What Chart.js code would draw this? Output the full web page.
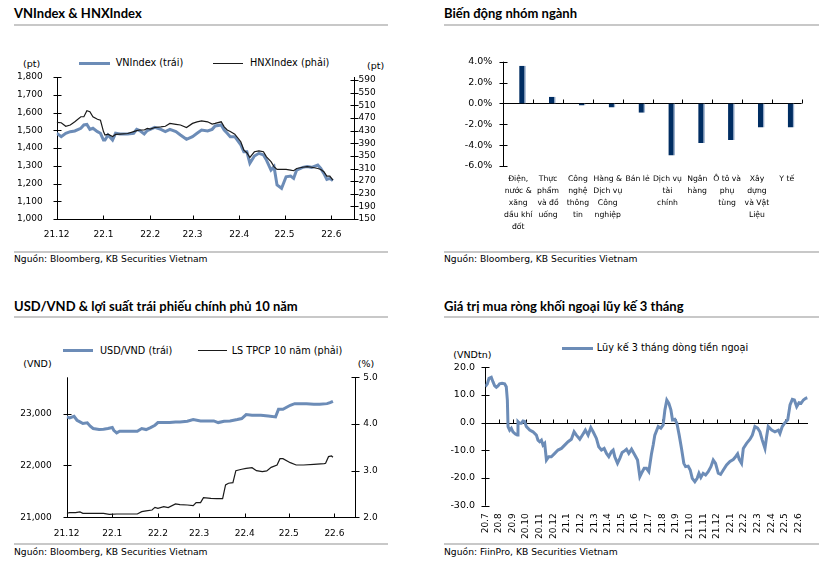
<!DOCTYPE html>
<html><head><meta charset="utf-8">
<script src="https://cdn.jsdelivr.net/npm/chart.js@4.4.1/dist/chart.umd.min.js"></script>
<style>
body{margin:0;width:830px;height:561px;background:#fff;position:relative;overflow:hidden;font-family:"DejaVu Sans",sans-serif;color:#000;}
.t{position:absolute;font-family:Lato,sans-serif;font-weight:bold;font-size:13px;line-height:16px;white-space:nowrap;}
.r{position:absolute;height:2px;background:#c8c8c8;}
.s{position:absolute;font-size:9.2px;line-height:12px;white-space:nowrap;}
.l{position:absolute;font-size:9.7px;line-height:12px;white-space:nowrap;}
.u{position:absolute;font-size:9.5px;line-height:12px;white-space:nowrap;}
.sw{position:absolute;}
.c{position:absolute;}
</style></head><body>

<div class="t" style="left:14px;top:5px">VNIndex &amp; HNXIndex</div>
<div class="r" style="left:14px;top:24px;width:374px"></div>
<div class="t" style="left:444px;top:5px">Biến động nhóm ngành</div>
<div class="r" style="left:444px;top:24px;width:375px"></div>
<div class="t" style="left:14px;top:298px">USD/VND &amp; lợi suất trái phiếu chính phủ 10 năm</div>
<div class="r" style="left:14px;top:316px;width:374px"></div>
<div class="t" style="left:444px;top:298px">Giá trị mua ròng khối ngoại lũy kế 3 tháng</div>
<div class="r" style="left:444px;top:316px;width:375px"></div>

<div class="r" style="left:14px;top:251px;width:374px"></div>
<div class="s" style="left:14px;top:253px">Nguồn: Bloomberg, KB Securities Vietnam</div>
<div class="r" style="left:444px;top:251px;width:375px"></div>
<div class="s" style="left:444px;top:253px">Nguồn: Bloomberg, KB Securities Vietnam</div>
<div class="r" style="left:14px;top:543px;width:374px"></div>
<div class="s" style="left:14px;top:546px">Nguồn: Bloomberg, KB Securities Vietnam</div>
<div class="r" style="left:444px;top:543px;width:375px"></div>
<div class="s" style="left:444px;top:546px">Nguồn: FiinPro, KB Securities Vietnam</div>

<!-- legends -->
<div class="sw" style="left:79px;top:61.5px;width:31px;height:3px;background:#6C8CB7"></div>
<div class="l" style="left:115.7px;top:57px">VNIndex (trái)</div>
<div class="sw" style="left:213px;top:62.5px;width:30px;height:1.2px;background:#1a1a1a"></div>
<div class="l" style="left:250px;top:57px">HNXIndex (phải)</div>
<div class="u" style="left:23px;top:58px">(pt)</div>
<div class="u" style="left:367px;top:60px">(pt)</div>

<div class="sw" style="left:62.7px;top:349.2px;width:30px;height:3px;background:#6C8CB7"></div>
<div class="l" style="left:100px;top:344.7px">USD/VND (trái)</div>
<div class="sw" style="left:198px;top:350.2px;width:29px;height:1.2px;background:#1a1a1a"></div>
<div class="l" style="left:231.7px;top:344.7px">LS TPCP 10 năm (phải)</div>
<div class="u" style="left:23.3px;top:358px">(VND)</div>
<div class="u" style="left:357.7px;top:358px">(%)</div>

<div class="sw" style="left:562px;top:346.8px;width:31px;height:3px;background:#6C8CB7"></div>
<div class="l" style="left:596.7px;top:342.3px">Lũy kế 3 tháng dòng tiền ngoại</div>
<div class="u" style="left:453.3px;top:349px">(VNDtn)</div>

<div class="c" style="left:0;top:40px;width:415px;height:210px"><canvas id="c1"></canvas></div>
<div class="c" style="left:415px;top:40px;width:415px;height:210px"><canvas id="c2"></canvas></div>
<div class="c" style="left:0;top:330px;width:415px;height:215px"><canvas id="c3"></canvas></div>
<div class="c" style="left:415px;top:330px;width:415px;height:215px"><canvas id="c4"></canvas></div>

<script>
// ---------- DATA ----------
// Panel 1: days since 1 Dec 2021
const days1 = [0,3,6,9,12,16,18,20,22,24,27,29,31,32,34,37,39,42,47,51,53,55,58,60,62,65,69,72,75,79,82,86,90,93,96,100,103,105,109,111,113,115,118,122,124,126,128,131,134,137,139,142,144,146,149,152,155,157,159,163,166,169,173,175,177,179,181,183];
const vnIndex = [1483,1464,1483,1492,1496,1511,1530,1533,1505,1511,1492,1483,1445,1445,1473,1445,1483,1479,1479,1483,1505,1498,1479,1498,1505,1516,1505,1492,1505,1492,1473,1449,1464,1483,1501,1496,1505,1524,1530,1501,1483,1464,1464,1417,1379,1379,1314,1355,1370,1361,1332,1276,1295,1192,1173,1238,1242,1229,1276,1291,1295,1291,1304,1285,1257,1223,1229,1216];
const hnxIndex = [456,455,444,448,458,474,474,493,490,474,466,463,427,416,419,411,418,419,421,427,430,432,432,437,435,440,442,444,453,450,448,440,453,458,461,458,451,453,458,442,432,427,419,395,368,360,345,363,366,363,347,332,316,307,307,307,305,303,310,314,316,314,310,307,300,286,286,273];
const monthTickDays = [0,31,62,90,121,151,182];
const monthLabels = ['21.12','22.1','22.2','22.3','22.4','22.5','22.6'];
const hnxTicks = [150,190,230,270,310,350,390,430,470,510,550,590];

// Panel 2
const sectors = [['Điện,','nước &','xăng','dầu khí','đốt'],['Thực','phẩm','và đồ','uống'],['Công','nghệ','thông','tin'],['Hàng &','Dịch vụ','Công','nghiệp'],['Bán lẻ'],['Dịch vụ','tài','chính'],['Ngân','hàng'],['Ô tô và','phụ','tùng'],['Xây','dựng','và Vật','Liệu'],['Y tế']];
const sectorChange = [3.6,0.65,-0.2,-0.4,-0.9,-5.0,-3.8,-3.5,-2.3,-2.3];

// Panel 3
const daysUsd = [0,2,5,7,9,11,14,16,18,22,25,28,31,32,34,36,40,43,48,51,54,57,60,62,66,70,74,77,82,86,91,95,100,103,107,111,116,119,122,126,132,137,142,144,147,152,155,159,163,168,172,177,179,181];
const usdVnd = [22936,22917,22949,22872,22840,22808,22821,22756,22712,22692,22699,22712,22731,22679,22628,22660,22660,22660,22660,22712,22692,22731,22776,22827,22827,22827,22840,22840,22853,22885,22859,22859,22859,22827,22853,22859,22885,22904,22981,22968,22968,22955,22936,23083,23083,23160,23192,23192,23192,23179,23179,23192,23212,23237];
const daysYield = [0,2,6,9,11,16,20,25,29,34,39,43,48,51,54,58,60,62,66,69,74,77,82,86,88,91,93,98,102,106,108,110,113,115,119,122,126,129,133,136,139,143,145,147,152,156,161,168,175,176,178,180,181];
const bondYield = [2.086,2.10,2.10,2.114,2.086,2.086,2.086,2.086,2.064,2.071,2.071,2.071,2.071,2.121,2.136,2.157,2.214,2.193,2.229,2.207,2.286,2.271,2.264,2.25,2.314,2.314,2.421,2.407,2.40,2.40,2.693,2.729,2.743,3.0,3.029,3.05,3.064,3.0,2.979,2.993,3.071,3.121,3.257,3.257,3.171,3.121,3.121,3.136,3.15,3.157,3.30,3.314,3.286];
const usdTicks = [21000,22000,23000];

// Panel 4: months since Jul 2020
const months4 = [0,0.15,0.27,0.44,0.56,0.69,0.81,0.93,1.05,1.23,1.42,1.54,1.62,1.67,1.79,1.91,2.03,2.21,2.35,2.40,2.52,2.65,2.77,2.89,3.01,3.26,3.50,3.75,3.87,3.99,4.12,4.24,4.36,4.49,4.66,4.85,5.10,5.34,5.59,5.83,6.08,6.32,6.52,6.69,6.94,7.18,7.35,7.55,7.75,7.92,8.16,8.33,8.53,8.73,8.90,9.07,9.26,9.39,9.51,9.71,9.88,10.05,10.25,10.37,10.54,10.74,10.98,11.18,11.35,11.47,11.67,11.84,12.01,12.21,12.33,12.45,12.70,12.89,13.06,13.19,13.33,13.48,13.63,13.75,13.92,14.07,14.24,14.41,14.58,14.71,14.90,15.05,15.20,15.39,15.56,15.69,15.83,16.00,16.18,16.37,16.57,16.74,16.91,17.11,17.28,17.48,17.72,17.97,18.21,18.38,18.53,18.65,18.82,18.95,19.19,19.44,19.61,19.80,20.00,20.17,20.34,20.54,20.66,20.78,21.03,21.27,21.52,21.64,21.81,22.01,22.21,22.38,22.55,22.70,22.87,23.04,23.19,23.36,23.53,23.65];
const foreignFlow3M = [13.0,14,16.0,16.4,14.8,13.3,12.8,13.3,14.0,14.2,14.0,13.0,8.2,-1.4,-2.7,-2.0,-3.3,-4.1,-4.5,0.4,-0.2,-0.2,0.6,0.4,-1.4,-2.7,-3.3,-4.5,-6.3,-6.9,-6.3,-8.1,-7.5,-13.5,-12.3,-12.3,-11.1,-9.9,-9.3,-8.1,-6.9,-6.0,-3.3,-4.5,-6.0,-4.1,-2.7,-4.5,-1.8,-3.3,-5.7,-8.7,-9.9,-9.3,-11.1,-12.3,-10.5,-9.9,-12.3,-14.7,-12.9,-10.8,-10.1,-9.6,-11.1,-9.6,-11.7,-13.5,-19.5,-18.3,-16.5,-16.5,-17.7,-11.1,-8.1,-4.5,-1.4,-2.0,-0.8,4.6,8.2,7.0,4.6,1.0,1.2,-0.2,-4.5,-9.3,-14.7,-15.9,-15.7,-17.1,-20.1,-21.3,-20.1,-18.3,-19.8,-18.3,-18.9,-17.7,-15.9,-13.5,-14.7,-18.3,-18.7,-17.1,-15.3,-14.0,-13.3,-12.3,-11.3,-13.3,-14.7,-9.3,-7.5,-6.0,-4.5,-1.4,-2.0,-3.3,-6.3,-9.3,-5.1,-1.4,-2.7,-3.3,-2.7,-3.9,-1.4,0,1.0,6.4,8.4,8.2,5.8,7.2,7.0,8.2,8.8,9.0];
const monthLabels4 = ['20.7','20.8','20.9','20.10','20.11','20.12','21.1','21.2','21.3','21.4','21.5','21.6','21.7','21.8','21.9','21.10','21.11','21.12','22.1','22.2','22.3','22.4','22.5','22.6'];

// ---------- SETUP ----------
const BLUE = '#6C8CB7', DARK = '#1a1a1a', NAVY = '#002D62';
Chart.defaults.color = '#000';
Chart.defaults.font.family = '"DejaVu Sans", sans-serif';
Chart.defaults.font.size = 9;
Chart.defaults.animation = false;
Chart.defaults.devicePixelRatio = 1;
Chart.defaults.maintainAspectRatio = false;
Chart.defaults.plugins.legend.display = false;
Chart.defaults.plugins.tooltip.enabled = false;

const axisDecor = {
  id: 'axisDecor',
  beforeDatasetsDraw(chart, args, o) {
    const {ctx, chartArea: a, scales} = chart;
    ctx.save();
    ctx.strokeStyle = '#000';
    ctx.lineWidth = 1;
    const seg = (x1, y1, x2, y2) => { ctx.beginPath(); ctx.moveTo(x1, y1); ctx.lineTo(x2, y2); ctx.stroke(); };
    (o.y || []).forEach(id => {
      const s = scales[id];
      const x = Math.round(s.position === 'right' ? a.right : a.left) + 0.5;
      seg(x, a.top, x, a.bottom);
      s.ticks.forEach(t => { const y = Math.round(s.getPixelForValue(t.value)) + 0.5; seg(x - 4, y, x + 4, y); });
    });
    if (o.x) {
      const s = scales[o.x.id];
      const yy = o.x.at === undefined ? a.bottom : scales[o.x.yId].getPixelForValue(o.x.at);
      const y = Math.round(yy) + 0.5;
      seg(a.left, y, a.right, y);
      const marks = o.x.boundaries ? s.ticks.map((t, i) => i + 0.5) : s.ticks.map(t => t.value);
      marks.forEach(v => { const x = Math.round(s.getPixelForValue(v)) + 0.5; seg(x, y, x, y - 4); });
    }
    ctx.restore();
  }
};
const fixW = w => s => { s.width = w; };
const fixH = h => s => { s.height = h; };
const noGrid = {display: false, drawTicks: false};
const noBorder = {display: false};
const pts = (xs, ys) => xs.map((x, i) => ({x, y: ys[i]}));

// ---------- PANEL 1 ----------
new Chart(document.getElementById('c1'), {
  type: 'line',
  data: { datasets: [
    {label: 'VNIndex (trái)', data: pts(days1, vnIndex), borderColor: BLUE, borderWidth: 3, pointRadius: 0, yAxisID: 'y', order: 2},
    {label: 'HNXIndex (phải)', data: pts(days1, hnxIndex), borderColor: DARK, borderWidth: 1.2, pointRadius: 0, yAxisID: 'y2', order: 1}
  ]},
  options: {
    layout: {padding: {left: 6.7, right: 21, top: 37, bottom: 6}},
    scales: {
      x: {type: 'linear', min: 0, max: 197, grid: noGrid, border: noBorder, afterFit: fixH(25),
          afterBuildTicks: s => { s.ticks = monthTickDays.map(v => ({value: v})); },
          ticks: {autoSkip: false, maxRotation: 0, padding: 10.6, callback: (v, i) => monthLabels[i]}},
      y: {position: 'left', min: 1000, max: 1800, grid: noGrid, border: noBorder, afterFit: fixW(50),
          ticks: {autoSkip: false, stepSize: 100, padding: 14, callback: v => v.toLocaleString('en-US')}},
      y2: {position: 'right', min: 150, max: 600, grid: noGrid, border: noBorder, afterFit: fixW(40),
          afterBuildTicks: s => { s.ticks = hnxTicks.map(v => ({value: v})); },
          ticks: {autoSkip: false, padding: 4.5, callback: v => String(v)}}
    },
    plugins: {axisDecor: {y: ['y', 'y2'], x: {id: 'x'}}}
  },
  plugins: [axisDecor]
});

// ---------- PANEL 2 ----------
new Chart(document.getElementById('c2'), {
  type: 'bar',
  data: { labels: sectors, datasets: [
    {label: '', data: sectors.map(() => null)},
    {label: 'Biến động', data: sectorChange, backgroundColor: NAVY, borderColor: '#9DB2CF',
     borderWidth: {top: 0, right: 1.5, bottom: 0, left: 0}, borderSkipped: false}
  ]},
  options: {
    layout: {padding: {left: 8.3, right: 28.3, top: 21.7, bottom: 4}},
    datasets: {bar: {categoryPercentage: 0.577, barPercentage: 0.78}},
    scales: {
      x: {grid: noGrid, border: noBorder, afterFit: fixH(80),
          ticks: {autoSkip: false, maxRotation: 0, padding: 7, font: {size: 7.7, lineHeight: '12px'}}},
      y: {min: -6, max: 4, grid: noGrid, border: noBorder, afterFit: fixW(80),
          ticks: {autoSkip: false, stepSize: 2, padding: 11, font: {size: 9.5}, callback: v => v.toFixed(1) + '%'}}
    },
    plugins: {axisDecor: {y: ['y'], x: {id: 'x', at: 0, yId: 'y', boundaries: true}}}
  },
  plugins: [axisDecor]
});

// ---------- PANEL 3 ----------
new Chart(document.getElementById('c3'), {
  type: 'line',
  data: { datasets: [
    {label: 'USD/VND (trái)', data: pts(daysUsd, usdVnd), borderColor: BLUE, borderWidth: 3, pointRadius: 0, yAxisID: 'y'},
    {label: 'LS TPCP 10 năm (phải)', data: pts(daysYield, bondYield), borderColor: DARK, borderWidth: 1.2, pointRadius: 0, yAxisID: 'y2'}
  ]},
  options: {
    layout: {padding: {left: 6.7, right: 15, top: 47.3, bottom: 2.7}},
    scales: {
      x: {type: 'linear', min: 0, max: 196, grid: noGrid, border: noBorder, afterFit: fixH(25),
          afterBuildTicks: s => { s.ticks = monthTickDays.map(v => ({value: v})); },
          ticks: {autoSkip: false, maxRotation: 0, padding: 10.6, callback: (v, i) => monthLabels[i]}},
      y: {position: 'left', min: 21000, max: 23700, grid: noGrid, border: noBorder, afterFit: fixW(60),
          afterBuildTicks: s => { s.ticks = usdTicks.map(v => ({value: v})); },
          ticks: {autoSkip: false, padding: 15, callback: v => v.toLocaleString('en-US')}},
      y2: {position: 'right', min: 2, max: 5, grid: noGrid, border: noBorder, afterFit: fixW(45),
          ticks: {autoSkip: false, stepSize: 1, padding: 8.3, callback: v => v.toFixed(1)}}
    },
    plugins: {axisDecor: {y: ['y', 'y2'], x: {id: 'x'}}}
  },
  plugins: [axisDecor]
});

// ---------- PANEL 4 ----------
new Chart(document.getElementById('c4'), {
  type: 'line',
  data: { datasets: [
    {label: 'Lũy kế 3 tháng dòng tiền ngoại', data: pts(months4, foreignFlow3M), borderColor: BLUE, borderWidth: 3, pointRadius: 0}
  ]},
  options: {
    layout: {padding: {left: 10.3, right: 22, top: 37.3, bottom: 2.3}},
    scales: {
      x: {type: 'linear', min: 0, max: 23.7, grid: noGrid, border: noBorder, afterFit: fixH(37),
          afterBuildTicks: s => { s.ticks = monthLabels4.map((l, i) => ({value: i})); },
          ticks: {autoSkip: false, minRotation: 90, maxRotation: 90, padding: 7.6, callback: (v, i) => monthLabels4[i]}},
      y: {min: -30, max: 20, grid: noGrid, border: noBorder, afterFit: fixW(60),
          ticks: {autoSkip: false, stepSize: 10, padding: 10.3, font: {size: 9.5}, callback: v => v.toFixed(1)}}
    },
    plugins: {axisDecor: {y: ['y'], x: {id: 'x', at: 0, yId: 'y'}}}
  },
  plugins: [axisDecor]
});
</script>
</body></html>
